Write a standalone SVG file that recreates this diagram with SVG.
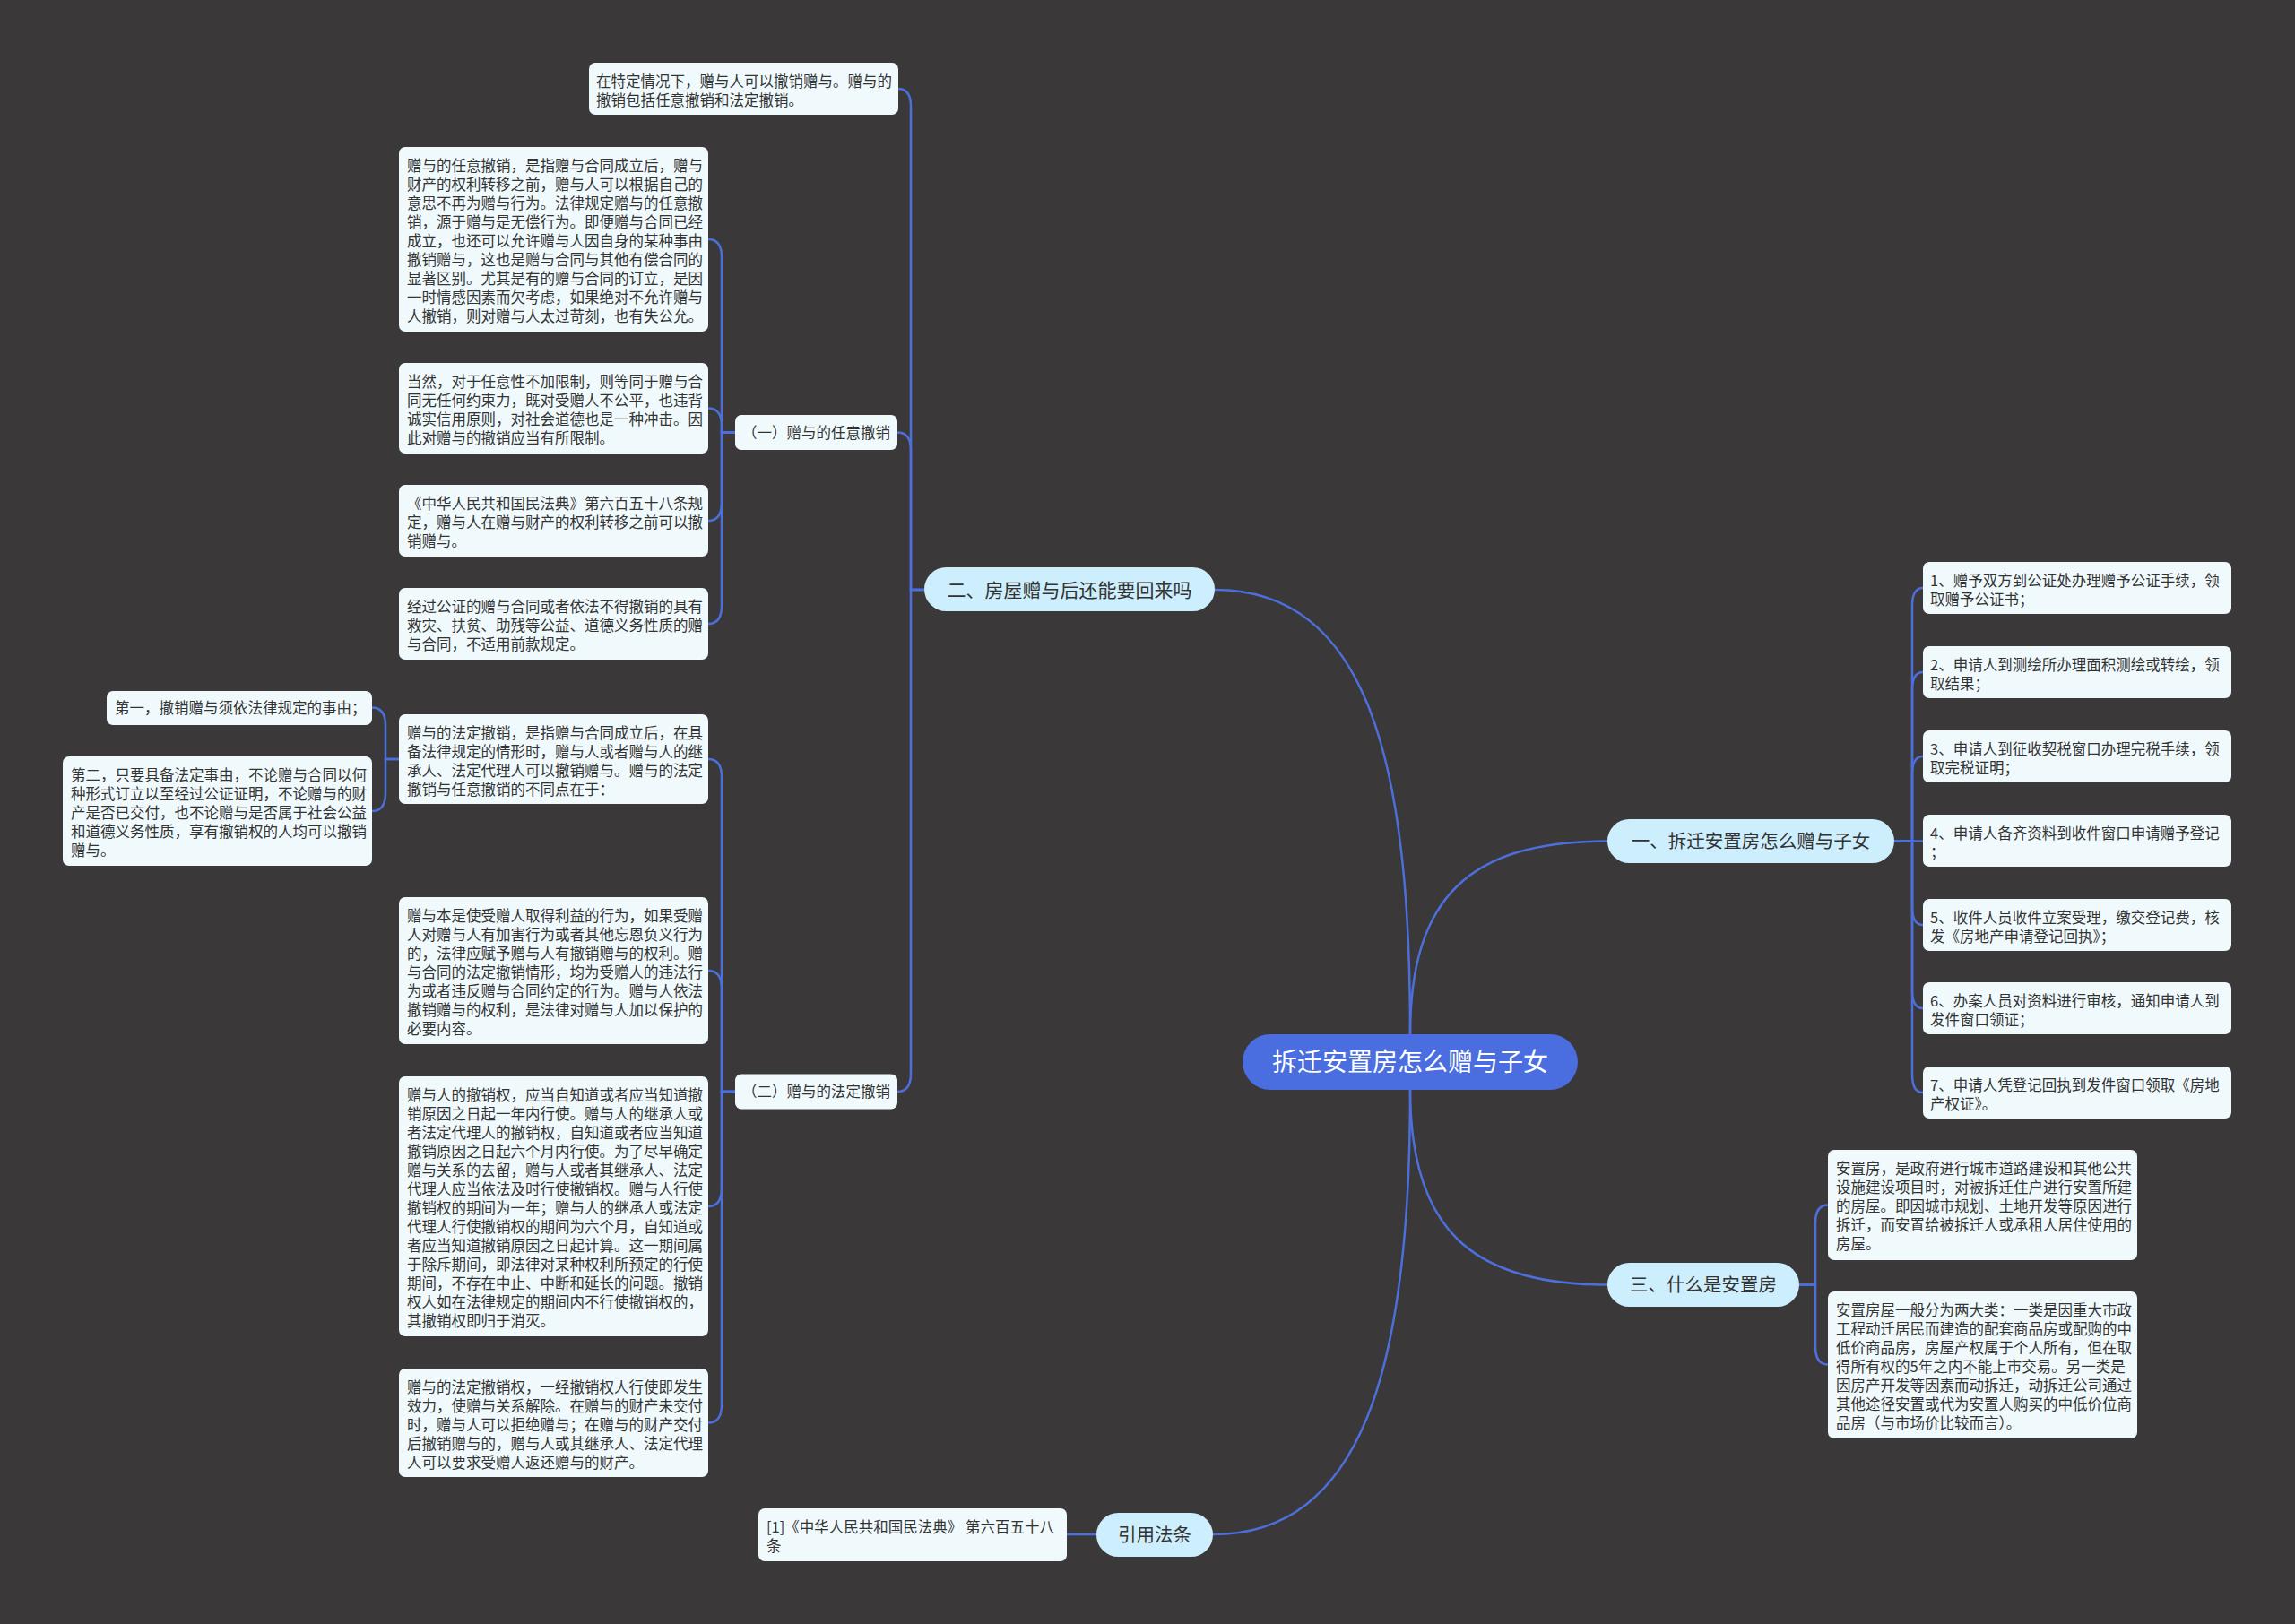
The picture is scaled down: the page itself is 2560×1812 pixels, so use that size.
<svg xmlns="http://www.w3.org/2000/svg" width="2560" height="1812" viewBox="0 0 2560 1812">
<style>
.t{font-family:"Noto Sans CJK SC","Noto Sans",sans-serif;font-size:16.5px;fill:#333333}
.leaf{fill:#f0fafd}
.l1{fill:#cdeefc}
.l1t{font-family:"Noto Sans CJK SC","Noto Sans",sans-serif;font-size:20.5px;fill:#333333;text-anchor:middle}
.roott{font-family:"Noto Sans CJK SC","Noto Sans",sans-serif;font-size:28px;fill:#ffffff;text-anchor:middle}
.e{fill:none;stroke:#4d6fdb;stroke-width:2.5}
</style>
<rect width="2560" height="1812" fill="#3a3838"/>
<g id="connectors">
<path class="e" d="M1573 1154 C1573 849 1525 658 1355 658"/>
<path class="e" d="M1573 1154 C1573 1000 1640 938.5 1793 938.5"/>
<path class="e" d="M1573 1216 C1573 1370 1640 1433.5 1793 1433.5"/>
<path class="e" d="M1573 1216 C1573 1530 1518 1712 1353 1712"/>
<path class="e" d="M1002 99 Q1016 99 1016 119 L1016 658 L1031 658"/>
<path class="e" d="M1001 482.5 Q1016 482.5 1016 502 L1016 658 L1031 658"/>
<path class="e" d="M1001 1218 Q1016 1218 1016 1198 L1016 658 L1031 658"/>
<path class="e" d="M790 267 Q805 267 805 287 L805 482.5 L820 482.5"/>
<path class="e" d="M790 455.5 Q805 455.5 805 475 L805 482.5 L820 482.5"/>
<path class="e" d="M790 581 Q805 581 805 561 L805 482.5 L820 482.5"/>
<path class="e" d="M790 696 Q805 696 805 676 L805 482.5 L820 482.5"/>
<path class="e" d="M790 847 Q805 847 805 867 L805 1218 L820 1218"/>
<path class="e" d="M790 1083 Q805 1083 805 1103 L805 1218 L820 1218"/>
<path class="e" d="M790 1346 Q805 1346 805 1326 L805 1218 L820 1218"/>
<path class="e" d="M790 1587.5 Q805 1587.5 805 1567.5 L805 1218 L820 1218"/>
<path class="e" d="M415 789.5 Q430 789.5 430 809.5 L430 847 L445 847"/>
<path class="e" d="M415 905 Q430 905 430 885 L430 847 L445 847"/>
<path class="e" d="M2113 938.5 L2133 938.5 L2133 676 Q2133 656 2145 656"/>
<path class="e" d="M2113 938.5 L2133 938.5 L2133 770 Q2133 750 2145 750"/>
<path class="e" d="M2113 938.5 L2133 938.5 L2133 864 Q2133 844 2145 844"/>
<path class="e" d="M2113 938.5 L2145 938.5"/>
<path class="e" d="M2113 938.5 L2133 938.5 L2133 1012 Q2133 1032 2145 1032"/>
<path class="e" d="M2113 938.5 L2133 938.5 L2133 1105 Q2133 1125 2145 1125"/>
<path class="e" d="M2113 938.5 L2133 938.5 L2133 1199 Q2133 1219 2145 1219"/>
<path class="e" d="M2007 1433.5 L2025 1433.5 L2025 1364.5 Q2025 1344.5 2039 1344.5"/>
<path class="e" d="M2007 1433.5 L2025 1433.5 L2025 1502.5 Q2025 1522.5 2039 1522.5"/>
<path class="e" d="M1223 1712 L1190 1712"/>
</g>

<g id="root">
<rect x="1386" y="1154" width="374" height="62" rx="31" fill="#4a6ee0"/>
<text class="roott" x="1573" y="1195">拆迁安置房怎么赠与子女</text>
</g>

<g id="b2">
<rect class="l1" x="1031" y="633" width="324" height="49" rx="24.5"/>
<text class="l1t" x="1193" y="665.5" style="font-size:21px">二、房屋赠与后还能要回来吗</text>
</g>
<g id="b1">
<rect class="l1" x="1793" y="914" width="320" height="49" rx="24.5"/>
<text class="l1t" x="1953" y="946">一、拆迁安置房怎么赠与子女</text>
</g>
<g id="b3">
<rect class="l1" x="1793" y="1409" width="214" height="49" rx="24.5"/>
<text class="l1t" x="1900" y="1441">三、什么是安置房</text>
</g>
<g id="b4">
<rect class="l1" x="1223" y="1688" width="130" height="49" rx="24.5"/>
<text class="l1t" x="1288" y="1720">引用法条</text>
</g>

<g id="nA" transform="translate(657,70)">
<rect class="leaf" width="345" height="58" rx="7"/>
<text class="t"><tspan x="8" y="26.5">在特定情况下，赠与人可以撤销赠与。赠与的</tspan><tspan x="8" y="47.5">撤销包括任意撤销和法定撤销。</tspan></text>
</g>

<g id="s1" transform="translate(820,463)">
<rect class="leaf" width="181" height="39" rx="7"/>
<text class="t" x="8" y="25.5">（一）赠与的任意撤销</text>
</g>
<g id="s2" transform="translate(820,1198.5)">
<rect class="leaf" width="181" height="39" rx="7"/>
<text class="t" x="8" y="25.5">（二）赠与的法定撤销</text>
</g>

<g id="nL1" transform="translate(445,164)">
<rect class="leaf" width="345" height="206" rx="7"/>
<text class="t"><tspan x="9" y="26.5">赠与的任意撤销，是指赠与合同成立后，赠与</tspan><tspan x="9" y="47.5">财产的权利转移之前，赠与人可以根据自己的</tspan><tspan x="9" y="68.5">意思不再为赠与行为。法律规定赠与的任意撤</tspan><tspan x="9" y="89.5">销，源于赠与是无偿行为。即便赠与合同已经</tspan><tspan x="9" y="110.5">成立，也还可以允许赠与人因自身的某种事由</tspan><tspan x="9" y="131.5">撤销赠与，这也是赠与合同与其他有偿合同的</tspan><tspan x="9" y="152.5">显著区别。尤其是有的赠与合同的订立，是因</tspan><tspan x="9" y="173.5">一时情感因素而欠考虑，如果绝对不允许赠与</tspan><tspan x="9" y="194.5">人撤销，则对赠与人太过苛刻，也有失公允。</tspan></text>
</g>
<g id="nL2" transform="translate(445,405)">
<rect class="leaf" width="345" height="101" rx="7"/>
<text class="t"><tspan x="9" y="26.5">当然，对于任意性不加限制，则等同于赠与合</tspan><tspan x="9" y="47.5">同无任何约束力，既对受赠人不公平，也违背</tspan><tspan x="9" y="68.5">诚实信用原则，对社会道德也是一种冲击。因</tspan><tspan x="9" y="89.5">此对赠与的撤销应当有所限制。</tspan></text>
</g>
<g id="nL3" transform="translate(445,541)">
<rect class="leaf" width="345" height="80" rx="7"/>
<text class="t"><tspan x="9" y="26.5">《中华人民共和国民法典》第六百五十八条规</tspan><tspan x="9" y="47.5">定，赠与人在赠与财产的权利转移之前可以撤</tspan><tspan x="9" y="68.5">销赠与。</tspan></text>
</g>
<g id="nL4" transform="translate(445,656)">
<rect class="leaf" width="345" height="80" rx="7"/>
<text class="t"><tspan x="9" y="26.5">经过公证的赠与合同或者依法不得撤销的具有</tspan><tspan x="9" y="47.5">救灾、扶贫、助残等公益、道德义务性质的赠</tspan><tspan x="9" y="68.5">与合同，不适用前款规定。</tspan></text>
</g>
<g id="nL5" transform="translate(445,797)">
<rect class="leaf" width="345" height="100" rx="7"/>
<text class="t"><tspan x="9" y="26.5">赠与的法定撤销，是指赠与合同成立后，在具</tspan><tspan x="9" y="47.5">备法律规定的情形时，赠与人或者赠与人的继</tspan><tspan x="9" y="68.5">承人、法定代理人可以撤销赠与。赠与的法定</tspan><tspan x="9" y="89.5">撤销与任意撤销的不同点在于：</tspan></text>
</g>
<g id="nF1" transform="translate(119,771)">
<rect class="leaf" width="296" height="38" rx="7"/>
<text class="t" x="9" y="25">第一，撤销赠与须依法律规定的事由；</text>
</g>
<g id="nF2" transform="translate(70,844)">
<rect class="leaf" width="345" height="122" rx="7"/>
<text class="t"><tspan x="9" y="26.5">第二，只要具备法定事由，不论赠与合同以何</tspan><tspan x="9" y="47.5">种形式订立以至经过公证证明，不论赠与的财</tspan><tspan x="9" y="68.5">产是否已交付，也不论赠与是否属于社会公益</tspan><tspan x="9" y="89.5">和道德义务性质，享有撤销权的人均可以撤销</tspan><tspan x="9" y="110.5">赠与。</tspan></text>
</g>
<g id="nL6" transform="translate(445,1001)">
<rect class="leaf" width="345" height="164" rx="7"/>
<text class="t"><tspan x="9" y="26.5">赠与本是使受赠人取得利益的行为，如果受赠</tspan><tspan x="9" y="47.5">人对赠与人有加害行为或者其他忘恩负义行为</tspan><tspan x="9" y="68.5">的，法律应赋予赠与人有撤销赠与的权利。赠</tspan><tspan x="9" y="89.5">与合同的法定撤销情形，均为受赠人的违法行</tspan><tspan x="9" y="110.5">为或者违反赠与合同约定的行为。赠与人依法</tspan><tspan x="9" y="131.5">撤销赠与的权利，是法律对赠与人加以保护的</tspan><tspan x="9" y="152.5">必要内容。</tspan></text>
</g>
<g id="nL7" transform="translate(445,1201)">
<rect class="leaf" width="345" height="290" rx="7"/>
<text class="t"><tspan x="9" y="26.5">赠与人的撤销权，应当自知道或者应当知道撤</tspan><tspan x="9" y="47.5">销原因之日起一年内行使。赠与人的继承人或</tspan><tspan x="9" y="68.5">者法定代理人的撤销权，自知道或者应当知道</tspan><tspan x="9" y="89.5">撤销原因之日起六个月内行使。为了尽早确定</tspan><tspan x="9" y="110.5">赠与关系的去留，赠与人或者其继承人、法定</tspan><tspan x="9" y="131.5">代理人应当依法及时行使撤销权。赠与人行使</tspan><tspan x="9" y="152.5">撤销权的期间为一年；赠与人的继承人或法定</tspan><tspan x="9" y="173.5">代理人行使撤销权的期间为六个月，自知道或</tspan><tspan x="9" y="194.5">者应当知道撤销原因之日起计算。这一期间属</tspan><tspan x="9" y="215.5">于除斥期间，即法律对某种权利所预定的行使</tspan><tspan x="9" y="236.5">期间，不存在中止、中断和延长的问题。撤销</tspan><tspan x="9" y="257.5">权人如在法律规定的期间内不行使撤销权的，</tspan><tspan x="9" y="278.5">其撤销权即归于消灭。</tspan></text>
</g>
<g id="nL8" transform="translate(445,1527)">
<rect class="leaf" width="345" height="121" rx="7"/>
<text class="t"><tspan x="9" y="26.5">赠与的法定撤销权，一经撤销权人行使即发生</tspan><tspan x="9" y="47.5">效力，使赠与关系解除。在赠与的财产未交付</tspan><tspan x="9" y="68.5">时，赠与人可以拒绝赠与；在赠与的财产交付</tspan><tspan x="9" y="89.5">后撤销赠与的，赠与人或其继承人、法定代理</tspan><tspan x="9" y="110.5">人可以要求受赠人返还赠与的财产。</tspan></text>
</g>

<g id="nR1" transform="translate(2145,627)">
<rect class="leaf" width="344" height="58" rx="7"/>
<text class="t"><tspan x="8" y="26.5">1、赠予双方到公证处办理赠予公证手续，领</tspan><tspan x="8" y="47.5">取赠予公证书；</tspan></text>
</g>
<g id="nR2" transform="translate(2145,721)">
<rect class="leaf" width="344" height="58" rx="7"/>
<text class="t"><tspan x="8" y="26.5">2、申请人到测绘所办理面积测绘或转绘，领</tspan><tspan x="8" y="47.5">取结果；</tspan></text>
</g>
<g id="nR3" transform="translate(2145,815)">
<rect class="leaf" width="344" height="58" rx="7"/>
<text class="t"><tspan x="8" y="26.5">3、申请人到征收契税窗口办理完税手续，领</tspan><tspan x="8" y="47.5">取完税证明；</tspan></text>
</g>
<g id="nR4" transform="translate(2145,909)">
<rect class="leaf" width="344" height="58" rx="7"/>
<text class="t"><tspan x="8" y="26.5">4、申请人备齐资料到收件窗口申请赠予登记</tspan><tspan x="8" y="47.5">；</tspan></text>
</g>
<g id="nR5" transform="translate(2145,1003)">
<rect class="leaf" width="344" height="58" rx="7"/>
<text class="t"><tspan x="8" y="26.5">5、收件人员收件立案受理，缴交登记费，核</tspan><tspan x="8" y="47.5">发《房地产申请登记回执》；</tspan></text>
</g>
<g id="nR6" transform="translate(2145,1096)">
<rect class="leaf" width="344" height="58" rx="7"/>
<text class="t"><tspan x="8" y="26.5">6、办案人员对资料进行审核，通知申请人到</tspan><tspan x="8" y="47.5">发件窗口领证；</tspan></text>
</g>
<g id="nR7" transform="translate(2145,1190)">
<rect class="leaf" width="344" height="58" rx="7"/>
<text class="t"><tspan x="8" y="26.5">7、申请人凭登记回执到发件窗口领取《房地</tspan><tspan x="8" y="47.5">产权证》。</tspan></text>
</g>

<g id="nS1" transform="translate(2039,1283)">
<rect class="leaf" width="345" height="123" rx="7"/>
<text class="t"><tspan x="9" y="26.5">安置房，是政府进行城市道路建设和其他公共</tspan><tspan x="9" y="47.5">设施建设项目时，对被拆迁住户进行安置所建</tspan><tspan x="9" y="68.5">的房屋。即因城市规划、土地开发等原因进行</tspan><tspan x="9" y="89.5">拆迁，而安置给被拆迁人或承租人居住使用的</tspan><tspan x="9" y="110.5">房屋。</tspan></text>
</g>
<g id="nS2" transform="translate(2039,1441)">
<rect class="leaf" width="345" height="164" rx="7"/>
<text class="t"><tspan x="9" y="26.5">安置房屋一般分为两大类：一类是因重大市政</tspan><tspan x="9" y="47.5">工程动迁居民而建造的配套商品房或配购的中</tspan><tspan x="9" y="68.5">低价商品房，房屋产权属于个人所有，但在取</tspan><tspan x="9" y="89.5">得所有权的5年之内不能上市交易。另一类是</tspan><tspan x="9" y="110.5">因房产开发等因素而动拆迁，动拆迁公司通过</tspan><tspan x="9" y="131.5">其他途径安置或代为安置人购买的中低价位商</tspan><tspan x="9" y="152.5">品房（与市场价比较而言）。</tspan></text>
</g>

<g id="nB" transform="translate(846,1683)">
<rect class="leaf" width="344" height="59" rx="7"/>
<text class="t"><tspan x="9" y="26.5">[1]《中华人民共和国民法典》 第六百五十八</tspan><tspan x="9" y="47.5">条</tspan></text>
</g>
</svg>
